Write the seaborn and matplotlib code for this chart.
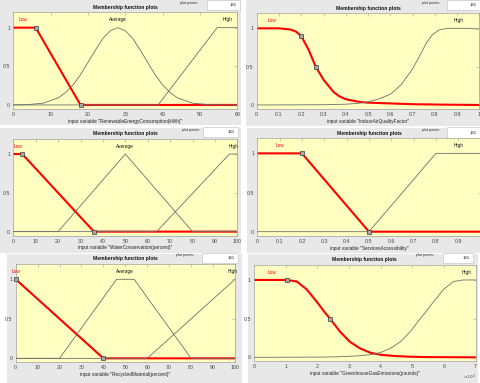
import matplotlib
matplotlib.use("Agg")
import matplotlib.pyplot as plt
import matplotlib.ticker as mticker
from matplotlib import font_manager
from matplotlib.patches import Rectangle
import seaborn as sns

# ---- values ----
renew_ticks = [0, 10, 20, 30, 40, 50, 60]
renew_low_x = [0, 6, 18, 60]
renew_low_y = [1, 1, 0, 0]
renew_avg_x = [0, 4, 8, 12, 14, 16, 18, 20, 22, 24, 26, 28, 30, 32, 34, 36, 38, 40, 42, 44, 48, 52, 56, 60]
renew_avg_y = [0.0, 0.005, 0.023, 0.09, 0.16, 0.26, 0.39, 0.55, 0.71, 0.86, 0.96, 1.0,
               0.96, 0.86, 0.71, 0.55, 0.39, 0.26, 0.16, 0.09, 0.023, 0.005, 0.0, 0.0]
renew_high_x = [0, 38.8, 54.6, 60]
renew_high_y = [0, 0, 1, 1]
renew_marks_x = [6, 18]
renew_marks_y = [1, 0]

indoor_ticks = [0, 0.1, 0.2, 0.3, 0.4, 0.5, 0.6, 0.7, 0.8, 0.9, 1]
indoor_low_x = [0, 0.1, 0.15, 0.175, 0.2, 0.233, 0.265, 0.3, 0.345, 0.37, 0.4, 0.46, 0.5, 0.6, 0.7, 0.85, 1.0]
indoor_low_y = [1, 1, 0.985, 0.96, 0.9, 0.72, 0.5, 0.33, 0.17, 0.115, 0.075, 0.04, 0.03, 0.02, 0.01, 0.004, 0.0]
indoor_high_x = [0, 0.3, 0.4, 0.45, 0.5, 0.55, 0.6, 0.625, 0.65, 0.7, 0.73, 0.76, 0.79, 0.82, 0.86, 0.95, 1.0]
indoor_high_y = [0, 0.003, 0.01, 0.02, 0.04, 0.08, 0.14, 0.2, 0.27, 0.47, 0.63, 0.8, 0.92, 0.98, 1.0, 1.0, 0.99]
indoor_marks_x = [0.2, 0.265]
indoor_marks_y = [0.9, 0.5]

water_ticks = [0, 10, 20, 30, 40, 50, 60, 70, 80, 90, 100]
water_low_x = [0, 4, 36, 100]
water_low_y = [1, 1, 0, 0]
water_avg_x = [0, 20, 50, 80, 100]
water_avg_y = [0, 0, 1, 0, 0]
water_high_x = [0, 64, 96.5, 100]
water_high_y = [0, 0, 1, 1]
water_marks_x = [4, 36]
water_marks_y = [1, 0]

services_ticks = [0, 0.1, 0.2, 0.3, 0.4, 0.5, 0.6, 0.7, 0.8, 0.9]
services_low_x = [0, 0.2, 0.5, 1]
services_low_y = [1, 1, 0, 0]
services_high_x = [0, 0.5, 0.8, 1]
services_high_y = [0, 0, 1, 1]
services_marks_x = [0.2, 0.5]
services_marks_y = [1, 0]

recycled_ticks = [0, 10, 20, 30, 40, 50, 60, 70, 80, 90, 100]
recycled_low_x = [0, 40, 100]
recycled_low_y = [1, 0, 0]
recycled_avg_x = [0, 20, 46, 54, 80, 100]
recycled_avg_y = [0, 0, 1, 1, 0, 0]
recycled_high_x = [0, 60, 100]
recycled_high_y = [0, 0, 1]
recycled_marks_x = [0, 40]
recycled_marks_y = [1, 0]

ghg_ticks = [0, 10000, 20000, 30000, 40000, 50000, 60000, 70000]
ghg_low_x = [0, 10500, 13500, 16600, 19800, 22000, 24000, 27200, 30300, 33500, 36700, 40000, 44000, 49000, 55000, 70000]
ghg_low_y = [1, 1, 0.98, 0.88, 0.72, 0.6, 0.5, 0.33, 0.2, 0.115, 0.06, 0.033, 0.018, 0.008, 0.003, 0]
ghg_high_x = [0, 21500, 27500, 32500, 36500, 39800, 43000, 46200, 49300, 52500, 54500, 56700, 59900, 63000, 66000, 70000]
ghg_high_y = [0, 0.003, 0.008, 0.018, 0.033, 0.06, 0.115, 0.2, 0.33, 0.5, 0.6, 0.72, 0.88, 0.98, 1, 1]
ghg_marks_x = [10500, 24000]
ghg_marks_y = [1, 0.5]

W, H = 480, 383
RED = "#FF0000"
MF_GREY = "#6E6E6E"
PANEL = "#E8E8E8"
YELLOW = "#FFFFC2"
EDGE = "#A0A0A0"

sns.set_style("white")
installed = {f.name for f in font_manager.fontManager.ttflist}
if "Liberation Sans Narrow" in installed:
    plt.rcParams["font.family"] = ["Liberation Sans Narrow", "DejaVu Sans"]
    k = 1.0
else:
    plt.rcParams["font.family"] = ["Liberation Sans", "DejaVu Sans"]
    k = 0.85


def frac(l, t, r, b):
    return [l / W, 1 - b / H, (r - l) / W, (b - t) / H]


def add_rect(l, t, r, b, face, edge="none"):
    fig.add_artist(Rectangle((l / W, 1 - b / H), (r - l) / W, (b - t) / H,
                             transform=fig.transFigure, facecolor=face,
                             edgecolor=edge, linewidth=0.5, zorder=0))


panels = [
    dict(var="RenewableEnergyConsumption(kWh)", grey=(0, 0, 241, 125),
         axes=(13.3, 12.2, 237.3, 108.8), box=(207, 0, 240, 10), pp=(198, 3),
         xlim=(0, 60), ticks=renew_ticks,
         low=(renew_low_x, renew_low_y),
         others=[(renew_avg_x, renew_avg_y), (renew_high_x, renew_high_y)],
         marks=(renew_marks_x, renew_marks_y),
         labels=[("Low", 2.5), ("Average", 28), ("High", 57.5)]),
    dict(var="IndoorAirQualityFactor", grey=(246, 0, 480, 126),
         axes=(256.7, 13.0, 479.4, 108.8), box=(447, 0, 480, 10), pp=(440, 3),
         xlim=(0, 1), ticks=indoor_ticks,
         low=(indoor_low_x, indoor_low_y),
         others=[(indoor_high_x, indoor_high_y)],
         marks=(indoor_marks_x, indoor_marks_y),
         labels=[("Low", 0.067), ("High", 0.905)]),
    dict(var="WaterConservation(percent)", grey=(0, 128, 241, 253),
         axes=(13.3, 138.5, 237.3, 235.5), box=(203, 127, 238, 137), pp=(200, 130),
         xlim=(0, 100), ticks=water_ticks,
         low=(water_low_x, water_low_y),
         others=[(water_avg_x, water_avg_y), (water_high_x, water_high_y)],
         marks=(water_marks_x, water_marks_y),
         labels=[("Low", 2.2), ("Average", 50), ("High", 98.5)]),
    dict(var="ServicesAccessibility", grey=(247, 128, 480, 253),
         axes=(257.3, 137.7, 480.6, 235.6), box=(447, 127, 480, 138), pp=(440, 130),
         xlim=(0, 1), ticks=services_ticks,
         low=(services_low_x, services_low_y),
         others=[(services_high_x, services_high_y)],
         marks=(services_marks_x, services_marks_y),
         labels=[("Low", 0.1), ("High", 0.9)]),
    dict(var="RecycledMaterial(percent)", grey=(7, 254, 242, 383),
         axes=(15.7, 263.5, 235.0, 362.3), box=(202, 253, 238, 263), pp=(194, 255),
         xlim=(0, 100), ticks=recycled_ticks,
         low=(recycled_low_x, recycled_low_y),
         others=[(recycled_avg_x, recycled_avg_y), (recycled_high_x, recycled_high_y)],
         marks=(recycled_marks_x, recycled_marks_y),
         labels=[("Low", 0.3), ("Average", 50), ("High", 99.0)]),
    dict(var="GreenhouseGasEmissions(pounds)", grey=(248, 254, 478, 383),
         axes=(254.0, 264.5, 475.7, 361.2), box=(443, 253, 473, 263), pp=(434, 255),
         xlim=(0, 70000), ticks=ghg_ticks,
         low=(ghg_low_x, ghg_low_y),
         others=[(ghg_high_x, ghg_high_y)],
         marks=(ghg_marks_x, ghg_marks_y),
         labels=[("Low", 5600), ("High", 67000)]),
]

fig = plt.figure(figsize=(W / 100, H / 100), dpi=100)
fig.patch.set_facecolor("white")

for p in panels:
    add_rect(*p["grey"], face=PANEL)
    l, t, r, b = p["box"]
    add_rect(l, t, r, b, face="white", edge="#C8C8C8")
    fig.text((r - 3) / W, 1 - (t + b) / 2 / H, "181", ha="right", va="center",
             fontsize=3.6 * k, color="#222222")
    fig.text(p["pp"][0] / W, 1 - p["pp"][1] / H, "plot points:", ha="right",
             va="center", fontsize=3.2 * k, color="#333333")

    ax = fig.add_axes(frac(*p["axes"]))
    ax.set_facecolor(YELLOW)

    lx, ly = p["low"]
    sns.lineplot(x=lx, y=ly, ax=ax, color=RED, linewidth=1.5, estimator=None,
                 zorder=2)
    for ox, oy in p["others"]:
        sns.lineplot(x=ox, y=oy, ax=ax, color=MF_GREY, linewidth=0.6,
                     estimator=None, zorder=3)
    mx, my = p["marks"]
    ax.plot(mx, my, "s", ms=2.6, mfc="#A8A8A8", mec="#3A3A3A", mew=0.5,
            zorder=4, clip_on=False)

    for name, xpos in p["labels"]:
        ax.text(xpos, 1.1, name, ha="center", va="center",
                color=RED if name == "Low" else "#111111",
                fontsize=4.0 * k, clip_on=False)

    ax.set_xlim(*p["xlim"])
    ax.set_ylim(-0.05, 1.2)
    ax.set_xticks(p["ticks"])
    ax.set_yticks([0, 0.5, 1])
    ax.yaxis.set_major_formatter(mticker.FuncFormatter(lambda v, _: f"{v:g}"))
    if p["xlim"][1] > 1000:
        # scaled ticks, with the x10^4 factor written at the lower right
        ax.xaxis.set_major_formatter(mticker.FuncFormatter(lambda v, _: f"{v / 1e4:g}"))
        ax.text(1.0, -0.165, r"$\times10^{4}$", transform=ax.transAxes,
                ha="right", va="center", fontsize=3.6 * k, color="#444444")
    else:
        ax.xaxis.set_major_formatter(mticker.FuncFormatter(lambda v, _: f"{v:g}"))

    ax.tick_params(direction="in", length=2, width=0.4, top=True, right=True,
                   color=EDGE, labelcolor="#444444", labelsize=4.5 * k, pad=2.2)
    for s in ax.spines.values():
        s.set_color(EDGE)
        s.set_linewidth(0.5)

    ax.set_title("Membership function plots", fontsize=4.2 * k,
                 fontweight="bold", pad=2.2, color="#111111")
    ax.set_xlabel(f'input variable "{p["var"]}"', fontsize=4.0 * k,
                  labelpad=1.4, color="#222222")
    ax.set_ylabel("")

fig.savefig("out.png", dpi=100, facecolor="white")
plt.close(fig)
